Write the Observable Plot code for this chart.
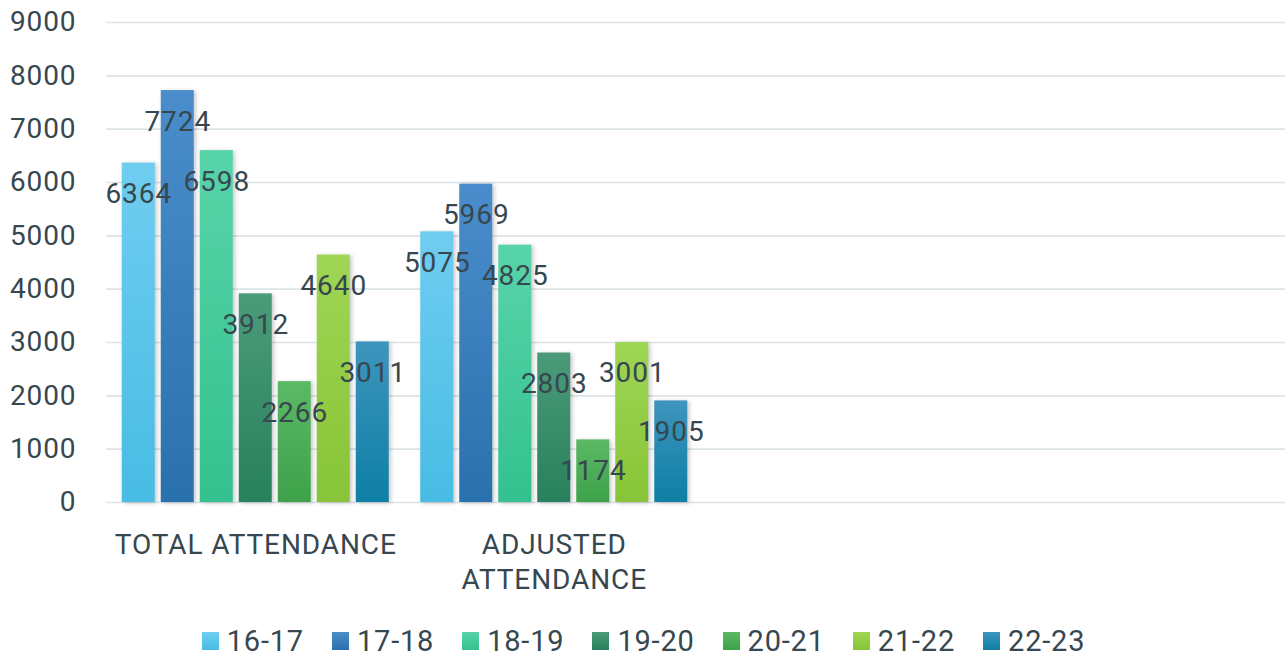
<!DOCTYPE html>
<html>
<head>
<meta charset="utf-8">
<script src="https://cdn.jsdelivr.net/npm/d3@7"></script>
<script src="https://cdn.jsdelivr.net/npm/@observablehq/plot@0.6"></script>
<style>
  html, body { margin: 0; padding: 0; background: #ffffff; overflow: hidden; width: 1285px; }
  #chart { width: 1285px; height: 597px; overflow: hidden; }
  #chart svg { display: block; max-width: none !important; width: 1300px !important; height: 597px !important; }
  g[aria-label="bar"] rect { filter: drop-shadow(2px 1px 2px rgba(0,0,0,0.22)); }
  #legend { display: flex; justify-content: center; padding-left: 30px; margin-top: 27px; }
  .lg-swatches { font-family: Roboto, sans-serif !important; font-size: 29px !important; color: #37474f !important; letter-spacing: 0.8px; min-height: 0 !important; margin: 0 !important; }
  .lg-swatch { margin-right: 28px !important; }
  .lg-swatch > svg { margin-right: 8px !important; }
</style>
</head>
<body>
<svg id="defs" width="0" height="0" style="position:absolute"></svg>
<div id="chart"></div>
<div id="legend"></div>
<script>
// ---- data ----
const categories = ["TOTAL ATTENDANCE", "ADJUSTED ATTENDANCE"];
const emptySlots = [" ", "  "]; // empty category slots on the axis
const seasons = ["16-17", "17-18", "18-19", "19-20", "20-21", "21-22", "22-23"];
const totalAttendance = [6364, 7724, 6598, 3912, 2266, 4640, 3011];
const adjustedAttendance = [5075, 5969, 4825, 2803, 1174, 3001, 1905];
const yTicks = [0, 1000, 2000, 3000, 4000, 5000, 6000, 7000, 8000, 9000];
const topColors = ["#6fcdf0", "#4b8dcc", "#58d4a9", "#4b9b7a", "#5cb966", "#9fd655", "#3e95bd"];
const bottomColors = ["#48bce4", "#2971ad", "#33c18f", "#28805c", "#3da24a", "#87c437", "#0e7fa5"];

// ---- gradients ----
const gradIds = seasons.map((s, i) => "grad" + i);
const gradUrls = gradIds.map(id => `url(#${id})`);
const defs = d3.select("#defs").append("defs");
seasons.forEach((s, i) => {
  const g = defs.append("linearGradient").attr("id", gradIds[i])
    .attr("x1", 0).attr("y1", 0).attr("x2", 0).attr("y2", 1);
  g.append("stop").attr("offset", "0%").attr("stop-color", topColors[i]);
  g.append("stop").attr("offset", "100%").attr("stop-color", bottomColors[i]);
});

const slots = [...categories, ...emptySlots];
const rows = [];
categories.forEach((c, i) => {
  const vals = i === 0 ? totalAttendance : adjustedAttendance;
  seasons.forEach((s, j) => rows.push({category: c, season: s, value: vals[j]}));
});
const gridRows = [];
slots.forEach(slot => yTicks.forEach(t => gridRows.push({slot, tick: t})));

const textColor = "#37474f";
const font = "Roboto, sans-serif";

const chart = Plot.plot({
  width: 1300,
  height: 597,
  marginLeft: 106,
  marginRight: 0,
  marginTop: 22,
  marginBottom: 95,
  style: {fontFamily: font, fontSize: "28px", color: textColor, background: "transparent", letterSpacing: "0.9px"},
  fx: {domain: slots, padding: 0, label: null, round: false},
  x: {domain: seasons, paddingInner: 0.154, paddingOuter: 0.404, axis: null, round: false},
  y: {domain: [0, 9000], label: null},
  color: {type: "ordinal", domain: seasons, range: gradUrls},
  marks: [
    Plot.ruleY(gridRows, {fx: "slot", y: "tick", stroke: "#dce3e6", strokeWidth: 1.6}),
    Plot.axisY({ticks: yTicks, tickFormat: d => String(d), tickSize: 0, tickPadding: 30, fontSize: 28, fill: textColor, label: null}),
    Plot.axisFx({anchor: "bottom", tickSize: 0, tickPadding: 27, lineHeight: 1.25, fontSize: 28, fill: textColor, label: null,
      tickFormat: d => d === "ADJUSTED ATTENDANCE" ? "ADJUSTED\nATTENDANCE" : d}),
    Plot.barY(rows, {fx: "category", x: "season", y: "value", fill: "season"}),
    Plot.text(rows, {fx: "category", x: "season", y: "value", text: d => String(d.value),
      dy: 31, fontSize: 28, fill: textColor})
  ]
});
document.getElementById("chart").appendChild(chart);

const legend = Plot.legend({
  color: {type: "ordinal", domain: seasons, range: gradUrls},
  legend: "swatches",
  swatchWidth: 17,
  swatchHeight: 18,
  className: "lg"
});
document.getElementById("legend").appendChild(legend);
</script>
</body>
</html>
